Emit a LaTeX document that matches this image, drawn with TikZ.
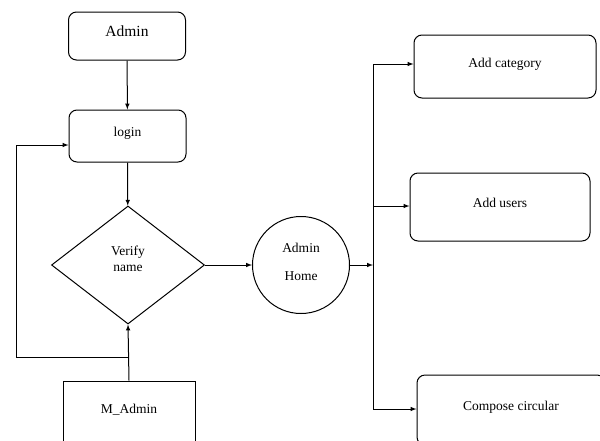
\documentclass[tikz,border=0pt]{standalone}
\usepackage{fontspec}
\setmainfont{Liberation Serif}
\usetikzlibrary{arrows}
\usetikzlibrary{positioning,shapes,fit}

\begin{document}
\begin{tikzpicture}[x=1pt,y=-1pt,line width=1pt,
    box/.style={draw,rounded corners=8pt,inner sep=0pt,text height=10pt,text depth=9pt},
    flat/.style={draw,inner sep=0pt,text height=10pt,text depth=9pt},
    arr/.style={-latex}]
      \useasboundingbox (0,0) rectangle (600,440);
      \fontsize{13.5pt}{16pt}\selectfont
      % left column
      \node[box,minimum width=117pt,minimum height=48pt] (admin) at (127,36) {\fontsize{15.5pt}{18pt}\selectfont Admin};
      \node[box,minimum width=117pt,minimum height=52pt] (login) at (127.5,136) {login};
      \node[draw,diamond,inner sep=0pt,minimum width=153pt,minimum height=118pt,align=center,text height=21pt,text depth=9pt] (verify) at (128,265) {Verify\\name};
      \node[flat,minimum width=132pt,minimum height=64pt] (madmin) at (129,413) {M\_Admin};
      \draw[arr] (admin) -- (login);
      \draw[arr] (login) -- (verify);
      \draw[arr] (madmin.north) -- (verify.south);
      \coordinate (mid) at (128,357);
      \coordinate (back) at (16,145);
      \draw[arr] (mid) -| (back) -- (back -| login.west);
      % home
      \node[draw,circle,inner sep=0pt,minimum size=97pt,align=center,text height=37pt,text depth=6pt] (home) at (301,265) {Admin\\[12pt]Home};
      \draw[arr] (verify.east) -- (home.west);
      % right column
      \node[box,minimum width=182pt,minimum height=63pt] (category) at (505,66.5) {Add category};
      \node[box,minimum width=180pt,minimum height=68pt] (users) at (500,207) {Add users};
      \node[box,minimum width=188pt,minimum height=70pt] (circular) at (511,410) {Compose circular};
      \coordinate (bus) at (373,265);
      \coordinate (bustop) at (373,64);
      \coordinate (busbot) at (373,409);
      \draw[arr] (home.east) -- (bus);
      \draw (bustop) -- (busbot);
      \draw[arr] (bustop) -- (bustop -| category.west);
      \draw[arr] (373,206) -- (373,206 -| users.west);
      \draw[arr] (busbot) -- (busbot -| circular.west);
\end{tikzpicture}
\end{document}
